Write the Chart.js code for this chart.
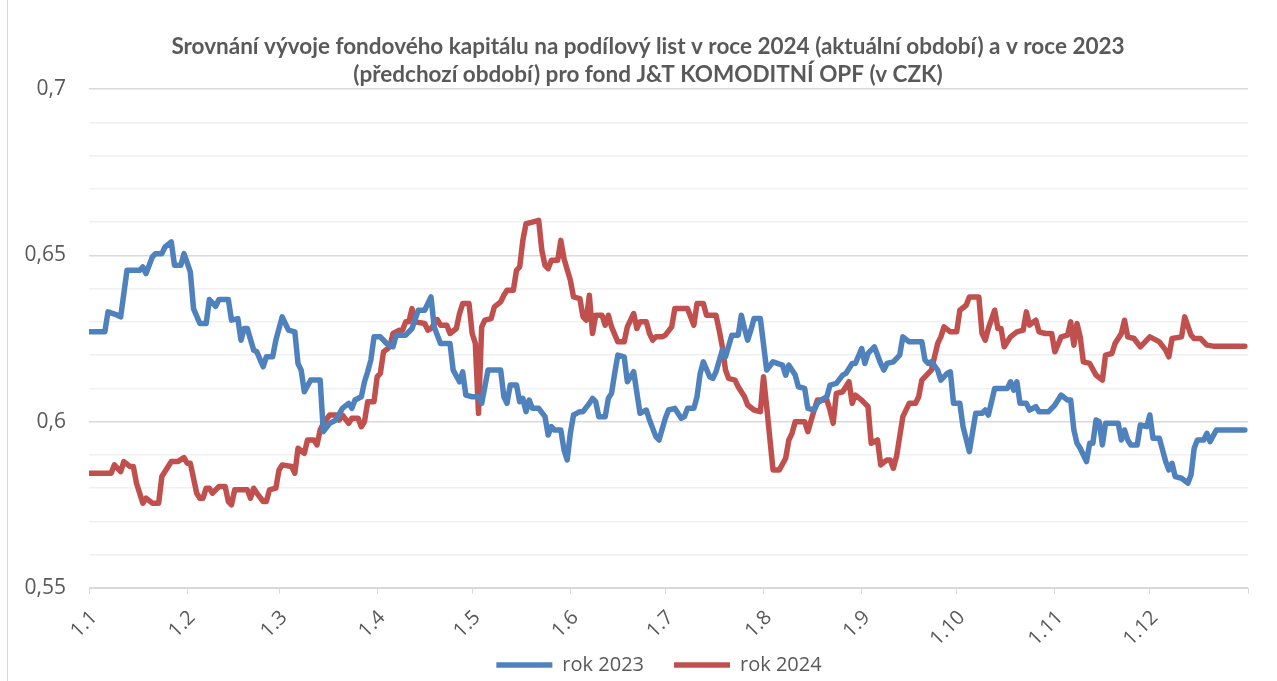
<!DOCTYPE html>
<html>
<head>
<meta charset="utf-8">
<script src="https://cdn.jsdelivr.net/npm/chart.js@4/dist/chart.umd.min.js"></script>
<style>
  html, body { margin: 0; padding: 0; background: #fff; }
  #wrap { width: 1277px; height: 681px; }
</style>
</head>
<body>
<div id="wrap"><canvas id="fundChart" width="1277" height="681"></canvas></div>
<script>
// month start positions (day index in year) and their labels
const monthDays = [0, 31, 60, 91, 121, 152, 182, 213, 244, 274, 305, 335];
const monthLabels = ["1.1", "1.2", "1.3", "1.4", "1.5", "1.6", "1.7", "1.8", "1.9", "1.10", "1.11", "1.12"];

// rok 2023 (blue), day index -> value
const days2023 = [0,5,6,9,10,12,16,17,18,20,21,23,24,26,27,29,30,32,33,35,37,38,40,41,44,45,47,48,49,50,52,53,55,56,58,59,61,63,65,66,67,68,70,73,74,76,78,80,82,83,84,86,87,88,89,90,92,94,96,97,100,102,104,106,108,109,111,114,115,117,118,119,121,123,124,126,130,131,132,133,135,136,137,138,139,140,142,144,145,146,147,149,150,151,152,153,155,156,158,159,160,161,163,164,165,166,167,169,170,172,174,176,177,179,180,182,183,185,187,188,189,191,192,193,194,196,197,198,200,201,203,205,206,207,208,209,210,212,214,216,219,220,221,223,224,226,227,229,230,232,233,234,236,238,239,241,242,244,245,246,248,250,251,252,254,256,257,259,263,264,265,266,268,269,271,272,273,275,276,278,280,282,283,284,286,290,291,292,293,294,296,297,299,300,303,305,307,309,310,311,312,313,315,316,317,318,319,320,321,325,326,327,328,329,331,332,334,335,336,338,340,341,342,343,345,347,348,349,350,352,353,354,356,365];
const vals2023 = [0.627,0.627,0.633,0.632,0.6315,0.6455,0.6455,0.6465,0.6445,0.6495,0.6505,0.6505,0.6525,0.654,0.647,0.647,0.6505,0.645,0.634,0.6295,0.6295,0.6367,0.6347,0.6367,0.6367,0.6305,0.631,0.6245,0.628,0.628,0.6215,0.621,0.6165,0.6195,0.6195,0.6245,0.6315,0.6275,0.627,0.6175,0.6155,0.609,0.6125,0.6125,0.597,0.5995,0.6005,0.604,0.6055,0.604,0.6065,0.6075,0.612,0.615,0.6185,0.6255,0.6255,0.6235,0.6225,0.626,0.626,0.628,0.6335,0.6335,0.6375,0.6285,0.6235,0.6235,0.6155,0.612,0.615,0.608,0.6075,0.6075,0.6055,0.6155,0.6155,0.6075,0.6055,0.611,0.611,0.606,0.607,0.603,0.6065,0.604,0.604,0.6015,0.596,0.5985,0.5975,0.5975,0.5915,0.5885,0.5965,0.602,0.603,0.603,0.6055,0.607,0.606,0.6015,0.6015,0.607,0.6085,0.6145,0.62,0.6195,0.612,0.615,0.6025,0.6035,0.6005,0.5955,0.5945,0.601,0.6035,0.604,0.601,0.6015,0.604,0.604,0.6075,0.6145,0.618,0.6135,0.613,0.615,0.6215,0.6195,0.626,0.626,0.632,0.628,0.6245,0.6275,0.631,0.631,0.6155,0.618,0.617,0.614,0.617,0.614,0.6105,0.61,0.604,0.6035,0.6055,0.607,0.6075,0.611,0.6115,0.614,0.6145,0.6175,0.6175,0.622,0.6175,0.6205,0.6225,0.6175,0.6155,0.6175,0.618,0.62,0.6255,0.624,0.624,0.6185,0.6175,0.618,0.6155,0.6125,0.6145,0.615,0.6055,0.6055,0.5985,0.591,0.6025,0.6025,0.6035,0.602,0.61,0.61,0.612,0.6095,0.612,0.6055,0.6055,0.6035,0.6045,0.603,0.603,0.605,0.608,0.6065,0.6065,0.5975,0.5935,0.592,0.588,0.5935,0.5935,0.6005,0.6,0.593,0.5995,0.5995,0.5945,0.5975,0.5945,0.593,0.593,0.599,0.5985,0.602,0.595,0.595,0.588,0.5855,0.5875,0.5835,0.583,0.5815,0.584,0.592,0.5945,0.5945,0.5965,0.594,0.5975,0.5975];

// rok 2024 (red)
const days2024 = [0,7,8,10,11,13,14,15,17,18,20,22,23,25,26,28,30,31,32,34,35,36,37,38,39,41,43,44,45,46,50,51,52,53,55,56,57,59,60,61,64,65,66,68,69,71,72,73,74,76,78,79,80,82,83,85,86,87,88,90,91,92,93,95,96,98,99,100,101,102,103,106,107,108,110,111,113,114,116,117,118,120,121,122,123,124,125,127,128,130,131,132,134,135,136,137,138,140,142,143,144,145,146,148,149,150,152,153,155,156,157,158,159,160,162,163,164,165,167,169,170,172,173,174,176,177,178,179,181,182,184,185,189,191,192,194,195,198,199,200,201,202,204,205,207,208,210,212,213,214,216,218,220,221,222,223,226,227,229,230,233,234,235,236,238,240,241,242,244,246,247,249,250,252,253,254,255,257,259,261,262,263,265,266,268,269,270,272,274,275,277,278,281,282,283,284,286,287,288,289,291,293,295,296,297,299,300,302,304,305,307,309,310,311,312,313,314,316,318,320,321,323,324,326,327,328,330,332,335,337,338,340,341,342,345,346,348,349,351,353,355,365];
const vals2024 = [0.5845,0.5845,0.587,0.585,0.588,0.5865,0.5865,0.5815,0.5755,0.577,0.5755,0.5755,0.5835,0.5865,0.588,0.588,0.5892,0.5875,0.5875,0.5785,0.577,0.577,0.58,0.58,0.5785,0.5805,0.5805,0.576,0.575,0.5795,0.5795,0.577,0.58,0.5785,0.576,0.576,0.5795,0.58,0.5855,0.587,0.5865,0.5845,0.592,0.5905,0.5945,0.5945,0.593,0.5975,0.5995,0.602,0.602,0.6005,0.602,0.5995,0.601,0.601,0.5985,0.6,0.606,0.606,0.6135,0.6145,0.621,0.6225,0.6265,0.6275,0.6275,0.63,0.63,0.634,0.63,0.6295,0.6275,0.628,0.6307,0.629,0.629,0.6265,0.628,0.6325,0.6355,0.6355,0.6265,0.6235,0.6025,0.6285,0.6305,0.631,0.6345,0.636,0.638,0.6395,0.6395,0.6455,0.6465,0.6545,0.6595,0.66,0.6605,0.6515,0.647,0.646,0.6485,0.6485,0.6545,0.649,0.6425,0.6375,0.637,0.6315,0.6305,0.638,0.6265,0.632,0.632,0.629,0.632,0.6285,0.624,0.624,0.6285,0.6325,0.628,0.63,0.63,0.6265,0.6245,0.6255,0.6255,0.626,0.6285,0.634,0.634,0.629,0.6355,0.6355,0.632,0.632,0.6275,0.6225,0.6155,0.613,0.6125,0.6105,0.6075,0.605,0.6035,0.603,0.6135,0.6045,0.5855,0.5855,0.589,0.5945,0.5965,0.6,0.6,0.597,0.6035,0.6065,0.6065,0.6035,0.5995,0.6085,0.609,0.612,0.6055,0.608,0.6065,0.6045,0.5935,0.5945,0.587,0.5885,0.5885,0.586,0.5895,0.6015,0.6055,0.6055,0.6075,0.6125,0.6145,0.6155,0.6235,0.6255,0.6285,0.627,0.627,0.6335,0.635,0.6375,0.6375,0.6265,0.6245,0.628,0.6335,0.628,0.628,0.6225,0.6255,0.627,0.6275,0.633,0.629,0.6305,0.627,0.6265,0.6265,0.621,0.6255,0.626,0.63,0.623,0.6295,0.6255,0.618,0.6175,0.614,0.6125,0.62,0.6205,0.6235,0.6265,0.6305,0.6255,0.625,0.6225,0.6255,0.6245,0.624,0.6215,0.6195,0.625,0.6255,0.6315,0.626,0.625,0.625,0.623,0.6227,0.6227];

const blue = "#4f81bd";
const red = "#c0504d";
const textCol = "#595959";

function toPoints(days, vals) {
  return days.map((d, i) => ({ x: d, y: vals[i] }));
}

// thin frame line on the left + nudging title/legend a bit right, like the exported chart
const framePlugin = {
  id: "frame",
  afterLayout(chart) {
    chart.titleBlock.left += 19;
    chart.titleBlock.right += 19;
    chart.legend.left += 30;
    chart.legend.right += 30;
    // rotated month labels hang below the axis box, don't clip them
    chart.scales.x._computeLabelArea = () => undefined;
  },
  afterDraw(chart) {
    const c = chart.ctx;
    c.save();
    c.strokeStyle = "#d9d9d9";
    c.lineWidth = 1;
    c.beginPath();
    c.moveTo(7.5, 0);
    c.lineTo(7.5, chart.height);
    c.stroke();
    c.restore();
  }
};

const ctx = document.getElementById("fundChart").getContext("2d");

new Chart(ctx, {
  type: "line",
  data: {
    datasets: [
      {
        label: "rok 2023",
        data: toPoints(days2023, vals2023),
        borderColor: blue,
        backgroundColor: blue,
        borderWidth: 5.5,
        pointRadius: 0,
        pointStyle: "line",
        tension: 0,
        borderJoinStyle: "round",
        borderCapStyle: "round",
      },
      {
        label: "rok 2024",
        data: toPoints(days2024, vals2024),
        borderColor: red,
        backgroundColor: red,
        borderWidth: 5.5,
        pointRadius: 0,
        pointStyle: "line",
        tension: 0,
        borderJoinStyle: "round",
        borderCapStyle: "round",
      },
    ],
  },
  options: {
    responsive: false,
    animation: false,
    layout: { padding: { left: 0, right: 19, top: 0, bottom: -4 } },
    plugins: {
      title: {
        display: true,
        text: [
          "Srovnání vývoje fondového kapitálu na podílový list v roce 2024 (aktuální období) a v roce 2023",
          "(předchozí období) pro fond J&T KOMODITNÍ OPF (v CZK)",
        ],
        color: textCol,
        font: { family: "Lato", size: 22.5, weight: "bold", lineHeight: 28 / 22.5 },
        padding: { top: 33, bottom: 0 },
      },
      legend: {
        position: "bottom",
        labels: {
          color: textCol,
          font: { family: "'Open Sans'", size: 20 },
          usePointStyle: true,
          pointStyleWidth: 56,
          boxHeight: 20,
          padding: 30,
        },
      },
      tooltip: { enabled: false },
    },
    scales: {
      x: {
        type: "linear",
        min: 0,
        max: 366,
        afterBuildTicks: (scale) => {
          scale.ticks = monthDays.concat([366]).map((v) => ({ value: v }));
        },
        afterFit: (scale) => {
          scale.height = scale.chart.height + 4 - 588 - scale.chart.legend.height;
        },
        ticks: {
          autoSkip: false,
          minRotation: 45,
          maxRotation: 45,
          color: textCol,
          font: { family: "'Open Sans'", size: 20 },
          padding: 12,
          labelOffset: 5,
          callback: (v) => {
            const i = monthDays.indexOf(v);
            return i >= 0 ? monthLabels[i] : "";
          },
        },
        grid: {
          drawOnChartArea: false,
          drawTicks: true,
          tickLength: 6,
          color: "#d9d9d9",
        },
        border: { display: true, color: "#d9d9d9", width: 1 },
      },
      y: {
        min: 0.55,
        max: 0.7,
        afterFit: (scale) => {
          scale.width = 89;
        },
        ticks: {
          stepSize: 0.01,
          autoSkip: false,
          color: textCol,
          font: { family: "'Open Sans'", size: 21 },
          padding: 23,
          callback: (v) => {
            const k = v * 20;
            if (Math.abs(k - Math.round(k)) > 1e-6) return "";
            return String(Math.round(v * 100) / 100).replace(".", ",");
          },
        },
        grid: {
          drawTicks: false,
          color: (c) => {
            const k = c.tick.value * 20;
            return Math.abs(k - Math.round(k)) < 1e-6 ? "#d9d9d9" : "#f0f0f0";
          },
          lineWidth: 1.5,
        },
        border: { display: false },
      },
    },
  },
  plugins: [framePlugin],
});
</script>
</body>
</html>
